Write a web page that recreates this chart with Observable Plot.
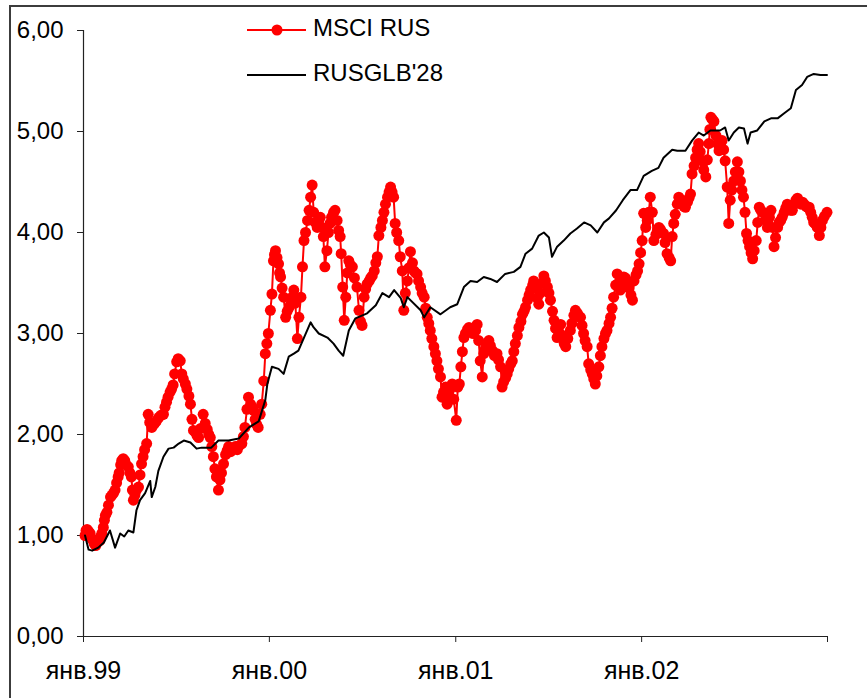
<!DOCTYPE html>
<html>
<head>
<meta charset="utf-8">
<script src="https://cdn.jsdelivr.net/npm/d3@7"></script>
<script src="https://cdn.jsdelivr.net/npm/@observablehq/plot@0.6"></script>
<style>
  html, body { margin: 0; padding: 0; background: #fff; }
  #wrap { position: relative; width: 867px; height: 698px; overflow: hidden;
          font-family: "Liberation Sans", Arial, sans-serif; }
  #chart { position: absolute; left: 0; top: 0; }
  #box { position: absolute; left: 9px; top: 5px; right: -10px; bottom: -10px;
         border-left: 2px solid #3c3c3c; border-top: 2px solid #3c3c3c; pointer-events: none; }
  #legend svg { position: absolute; left: 0; top: 0; }
  .lg-text { position: absolute; left: 313px; font-size: 24px; line-height: 24px; color: #000; white-space: nowrap; }
</style>
</head>
<body>
<div id="wrap">
  <div id="chart"></div>
  <div id="legend"></div>
  <div id="box"></div>
</div>
<script>
// MSCI Russia index, rebased to 1.00 at the start of 1999 (month-day per year)
const msciDays1999 = [
  "01-04","01-06","01-08","01-11","01-14","01-17","01-19","01-22","01-25","01-28",
  "02-02","02-04","02-06","02-09","02-11","02-13","02-16","02-19","02-23","02-26",
  "03-01","03-04","03-07","03-10","03-12","03-15","03-17","03-20","03-23","03-26",
  "03-30","04-02","04-05","04-07","04-09","04-12","04-15","04-19","04-22","04-25",
  "04-28","05-01","05-05","05-08","05-11","05-15","05-19","05-22","05-25","05-29",
  "06-02","06-07","06-10","06-13","06-16","06-20","06-23","06-26","06-29","07-03",
  "07-06","07-10","07-13","07-16","07-20","07-23","07-27","07-30","08-02","08-05",
  "08-09","08-12","08-15","08-19","08-24","08-28","09-01","09-04","09-07","09-10",
  "09-13","09-16","09-19","09-23","09-26","09-29","10-03","10-07","10-10","10-13",
  "10-17","10-21","10-26","10-30","11-03","11-08","11-11","11-14","11-18","11-21",
  "11-25","11-28","12-01","12-04","12-07","12-10","12-14","12-17","12-21","12-24",
  "12-27","12-30"
];
const msci1999 = [
  1.00,1.05,1.06,1.04,1.02,0.97,0.96,0.92,0.90,0.93,
  0.95,0.99,1.02,1.08,1.15,1.20,1.23,1.30,1.38,1.40,
  1.42,1.45,1.52,1.58,1.62,1.70,1.74,1.76,1.74,1.70,
  1.68,1.62,1.58,1.45,1.35,1.40,1.45,1.48,1.60,1.71,
  1.78,1.85,1.91,2.20,2.12,2.07,2.10,2.12,2.14,2.17,
  2.19,2.20,2.27,2.32,2.37,2.42,2.45,2.49,2.60,2.72,
  2.75,2.73,2.60,2.55,2.50,2.45,2.38,2.30,2.15,2.04,
  2.02,1.99,1.97,2.06,2.20,2.11,2.05,2.00,1.97,1.88,
  1.78,1.66,1.58,1.45,1.55,1.62,1.71,1.80,1.84,1.88,
  1.83,1.86,1.88,1.85,1.89,1.91,1.98,2.07,2.25,2.37,
  2.30,2.27,2.24,2.15,2.10,2.07,2.20,2.30,2.53,2.80,
  2.90,3.00
];
const msciDays2000 = [
  "01-03","01-06","01-09","01-11","01-13","01-16","01-19","01-21","01-23","01-26",
  "01-29","02-02","02-05","02-09","02-12","02-15","02-18","02-21","02-25","02-28",
  "03-03","03-06","03-09","03-12","03-16","03-19","03-22","03-25","03-28","03-31",
  "04-04","04-07","04-10","04-13","04-16","04-19","04-23","04-26","04-29","05-02",
  "05-06","05-09","05-13","05-16","05-19","05-21","05-24","05-27","05-30","06-02",
  "06-05","06-08","06-12","06-16","06-21","06-25","06-28","07-01","07-05","07-08",
  "07-11","07-15","07-18","07-21","07-25","07-28","07-31","08-03","08-07","08-10",
  "08-13","08-16","08-20","08-23","08-26","08-29","09-01","09-04","09-07","09-11",
  "09-14","09-18","09-21","09-24","09-28","10-01","10-04","10-08","10-11","10-14",
  "10-17","10-20","10-24","10-27","10-31","11-03","11-06","11-09","11-12","11-15",
  "11-19","11-22","11-25","11-28","12-02","12-05","12-08","12-12","12-15","12-18",
  "12-21","12-25","12-28"
];
const msci2000 = [
  3.23,3.39,3.72,3.78,3.82,3.75,3.69,3.60,3.56,3.45,
  3.36,3.16,3.22,3.26,3.29,3.36,3.43,3.30,2.95,3.16,
  3.36,3.66,3.92,4.00,4.12,4.22,4.35,4.47,4.20,4.10,
  4.05,4.12,4.15,4.05,3.96,3.66,3.82,4.00,4.09,4.15,
  4.20,4.22,4.12,4.02,3.96,3.79,3.46,3.13,3.36,3.60,
  3.72,3.68,3.66,3.55,3.46,3.23,3.12,3.08,3.36,3.44,
  3.49,3.52,3.55,3.57,3.62,3.70,3.76,3.97,4.05,4.12,
  4.20,4.28,4.35,4.40,4.45,4.40,4.35,4.09,4.00,3.92,
  3.76,3.62,3.23,3.40,3.52,3.65,3.81,3.70,3.62,3.60,
  3.59,3.52,3.46,3.40,3.36,3.25,3.16,3.10,3.03,2.95,
  2.87,2.80,2.73,2.65,2.57,2.37,2.42,2.47,2.30,2.38,
  2.45,2.50,2.35
];
const msciDays2001 = [
  "01-02","01-05","01-08","01-11","01-14","01-17","01-20","01-24","01-27","01-31",
  "02-04","02-09","02-12","02-15","02-18","02-22","02-25","02-28","03-03","03-07",
  "03-10","03-14","03-18","03-23","03-26","03-30","04-02","04-05","04-09","04-12",
  "04-15","04-19","04-22","04-25","04-28","05-02","05-05","05-09","05-12","05-15",
  "05-18","05-22","05-25","05-28","06-01","06-03","06-06","06-10","06-13","06-16",
  "06-20","06-23","06-26","06-30","07-03","07-06","07-10","07-13","07-16","07-19",
  "07-22","07-26","07-30","08-02","08-05","08-09","08-14","08-17","08-21","08-24",
  "08-28","08-31","09-03","09-06","09-09","09-12","09-16","09-19","09-23","09-26",
  "09-29","10-02","10-05","10-09","10-12","10-15","10-19","10-22","10-25","10-29",
  "11-01","11-04","11-07","11-11","11-14","11-17","11-20","11-24","11-27","11-30",
  "12-04","12-07","12-11","12-14","12-17","12-21","12-24","12-27","12-30"
];
const msci2001 = [
  2.14,2.47,2.50,2.67,2.82,2.96,3.00,3.04,3.06,3.02,
  3.00,3.03,3.09,2.93,2.73,2.57,2.80,2.85,2.88,2.93,
  2.88,2.83,2.78,2.80,2.74,2.67,2.47,2.52,2.56,2.60,
  2.65,2.70,2.73,2.82,2.90,2.98,3.06,3.12,3.19,3.22,
  3.26,3.33,3.38,3.43,3.48,3.52,3.45,3.35,3.29,3.40,
  3.50,3.57,3.52,3.46,3.40,3.33,3.22,3.13,3.05,2.96,
  3.02,3.09,2.98,2.90,2.87,2.95,3.03,3.10,3.18,3.23,
  3.20,3.17,3.16,3.08,3.00,2.93,2.87,2.70,2.64,2.60,
  2.55,2.50,2.58,2.67,2.78,2.87,2.95,3.00,3.03,3.10,
  3.16,3.25,3.36,3.48,3.59,3.50,3.43,3.50,3.56,3.55,
  3.52,3.45,3.38,3.33,3.52,3.58,3.62,3.69,3.80
];
const msciDays2002 = [
  "01-02","01-05","01-09","01-12","01-15","01-18","01-22","01-25","01-29","02-01",
  "02-04","02-07","02-10","02-13","02-16","02-20","02-24","02-27","03-02","03-05",
  "03-08","03-12","03-15","03-19","03-22","03-25","03-28","04-01","04-04","04-07",
  "04-10","04-14","04-17","04-20","04-23","04-26","04-30","05-03","05-07","05-10",
  "05-13","05-15","05-17","05-20","05-23","05-27","05-30","06-02","06-05","06-08",
  "06-11","06-14","06-18","06-21","06-24","06-27","07-01","07-04","07-08","07-11",
  "07-14","07-17","07-20","07-23","07-26","07-29","08-01","08-04","08-07","08-10",
  "08-14","08-17","08-20","08-23","08-27","08-30","09-02","09-05","09-09","09-12",
  "09-15","09-18","09-21","09-25","09-28","10-01","10-04","10-08","10-11","10-14",
  "10-17","10-21","10-24","10-28","10-31","11-03","11-07","11-10","11-13","11-16",
  "11-20","11-23","11-26","11-29","12-02","12-05","12-09","12-12","12-16","12-19",
  "12-22","12-26","12-31"
];
const msci2002 = [
  3.92,4.19,4.05,4.12,4.20,4.35,4.20,3.92,3.98,4.02,
  4.05,4.03,4.00,3.99,3.90,3.79,3.75,3.72,3.96,4.09,
  4.18,4.28,4.35,4.32,4.28,4.26,4.25,4.30,4.34,4.38,
  4.58,4.66,4.74,4.82,4.88,4.80,4.71,4.62,4.55,4.72,
  4.88,5.02,5.14,5.12,5.10,4.96,4.88,4.81,4.86,4.91,
  4.82,4.71,4.45,4.09,4.32,4.42,4.51,4.60,4.70,4.60,
  4.51,4.42,4.35,4.20,3.99,3.92,3.86,3.80,3.74,3.82,
  3.92,4.10,4.25,4.22,4.20,4.19,4.12,4.05,4.15,4.22,
  4.05,3.86,3.95,4.05,4.10,4.12,4.15,4.20,4.24,4.28,
  4.25,4.22,4.22,4.28,4.32,4.34,4.30,4.28,4.30,4.28,
  4.26,4.25,4.25,4.20,4.15,4.10,4.08,4.05,3.97,4.05,
  4.12,4.16,4.20
];

// Russia 2028 Eurobond, rebased the same way
const bondDates = [
  "1999-01-04","1999-01-11","1999-01-18","1999-01-30","1999-02-10","1999-02-22","1999-03-04","1999-03-14","1999-03-22","1999-03-30",
  "1999-04-09","1999-04-15","1999-04-22","1999-05-02","1999-05-12","1999-05-15","1999-05-22","1999-05-28","1999-06-07","1999-06-17",
  "1999-06-27","1999-07-07","1999-07-17","1999-07-30","1999-08-11","1999-08-21","1999-09-09","1999-09-23","1999-10-13","1999-11-02",
  "1999-11-22","1999-12-11","1999-12-24","1999-12-28","2000-01-06","2000-01-19","2000-01-29","2000-02-08","2000-02-18","2000-02-27",
  "2000-03-09","2000-03-22","2000-03-28","2000-04-07","2000-04-24","2000-05-06","2000-05-16","2000-05-25","2000-06-05","2000-06-18",
  "2000-07-11","2000-07-28","2000-08-10","2000-08-23","2000-09-02","2000-09-15","2000-09-21","2000-09-28","2000-10-24","2000-10-31",
  "2000-11-12","2000-12-02","2000-12-21","2001-01-04","2001-01-17","2001-01-30","2001-02-12","2001-02-25","2001-03-10","2001-03-23",
  "2001-04-08","2001-04-25","2001-05-08","2001-05-18","2001-05-31","2001-06-13","2001-06-23","2001-07-03","2001-07-09","2001-07-19",
  "2001-08-01","2001-08-14","2001-08-27","2001-09-10","2001-09-23","2001-10-06","2001-10-19","2001-10-29","2001-11-12","2001-11-25",
  "2001-12-10","2001-12-23","2002-01-05","2002-01-21","2002-02-03","2002-02-13","2002-03-02","2002-03-12","2002-03-28","2002-04-10",
  "2002-04-23","2002-05-03","2002-05-16","2002-06-04","2002-06-14","2002-06-21","2002-07-01","2002-07-11","2002-07-21","2002-07-28",
  "2002-08-03","2002-08-16","2002-08-30","2002-09-12","2002-09-25","2002-10-08","2002-10-21","2002-10-31","2002-11-12","2002-11-22",
  "2002-12-05","2002-12-18","2002-12-31"
];
const bondValues = [
  1.00,0.86,0.85,0.88,0.93,1.05,0.88,1.02,0.99,1.05,
  1.03,1.25,1.35,1.42,1.54,1.38,1.48,1.64,1.78,1.86,
  1.87,1.91,1.94,1.92,1.86,1.87,1.87,1.94,1.94,1.96,
  2.07,2.13,2.34,2.50,2.67,2.65,2.60,2.77,2.80,2.83,
  2.96,3.11,3.06,3.00,2.96,2.90,2.83,2.78,3.03,3.15,
  3.20,3.28,3.40,3.36,3.43,3.35,3.26,3.36,3.23,3.16,
  3.26,3.19,3.26,3.29,3.46,3.52,3.51,3.56,3.54,3.51,
  3.59,3.61,3.66,3.79,3.84,3.97,4.00,3.95,3.76,3.86,
  3.92,3.99,4.04,4.10,4.07,4.00,4.10,4.14,4.22,4.32,
  4.42,4.42,4.56,4.61,4.64,4.74,4.82,4.81,4.81,4.91,
  4.99,4.96,5.01,5.01,5.04,4.91,4.99,5.04,5.03,4.88,
  4.99,5.01,5.10,5.13,5.13,5.18,5.23,5.41,5.46,5.54,
  5.57,5.56,5.56
];

const yTicks = [0, 1, 2, 3, 4, 5, 6];
const yTickLabels = ["0,00", "1,00", "2,00", "3,00", "4,00", "5,00", "6,00"];
const xTickDates = ["1999-01-01", "2000-01-01", "2001-01-01", "2002-01-01", "2003-01-01"];
const xTickLabels = ["янв.99", "янв.00", "янв.01", "янв.02", ""];

const msciYears = [
  [1999, msciDays1999, msci1999],
  [2000, msciDays2000, msci2000],
  [2001, msciDays2001, msci2001],
  [2002, msciDays2002, msci2002]
];
const msci = msciYears.flatMap(([year, days, values]) =>
  days.map((md, i) => ({date: new Date(`${year}-${md}`), value: values[i]})));
const bond = bondDates.map((d, i) => ({date: new Date(d), value: bondValues[i]}));
const xTicks = xTickDates.map(d => new Date(d));

const chart = Plot.plot({
  width: 867,
  height: 698,
  marginLeft: 83,
  marginRight: 40,
  marginTop: 30,
  marginBottom: 62,
  style: {background: "transparent", fontFamily: "'Liberation Sans', Arial, sans-serif", color: "#000"},
  x: {type: "utc", domain: [xTicks[0], xTicks[xTicks.length - 1]]},
  y: {domain: [0, 6]},
  marks: [
    Plot.axisY({
      ticks: yTicks, tickFormat: d => yTickLabels[yTicks.indexOf(d)],
      tickSize: 6, tickPadding: 14, fontSize: 24, label: null, stroke: "#222"
    }),
    Plot.axisX({
      ticks: xTicks, tickFormat: d => xTickLabels[xTicks.findIndex(t => +t === +d)],
      tickSize: 6, tickPadding: 19, fontSize: 25, label: null, stroke: "#222"
    }),
    Plot.ruleX([xTicks[0]], {stroke: "#222", strokeWidth: 1.2}),
    Plot.ruleY([0], {stroke: "#222", strokeWidth: 1.2}),
    Plot.line(msci, {x: "date", y: "value", stroke: "#ff0000", strokeWidth: 2}),
    Plot.dot(msci, {x: "date", y: "value", r: 5.5, fill: "#ff0000"}),
    Plot.line(bond, {x: "date", y: "value", stroke: "#000", strokeWidth: 2})
  ]
});
document.getElementById("chart").appendChild(chart);

// Legend: series swatches with their names
const legend = document.getElementById("legend");
legend.innerHTML = `
  <svg width="867" height="100">
    <line x1="247" x2="306" y1="30" y2="30" stroke="#ff0000" stroke-width="2"/>
    <circle cx="277" cy="30" r="5.5" fill="#ff0000"/>
    <line x1="247" x2="306" y1="75" y2="75" stroke="#000" stroke-width="2"/>
  </svg>
  <div class="lg-text" style="top:16px">MSCI RUS</div>
  <div class="lg-text" style="top:61px">RUSGLB'28</div>`;
</script>
</body>
</html>
